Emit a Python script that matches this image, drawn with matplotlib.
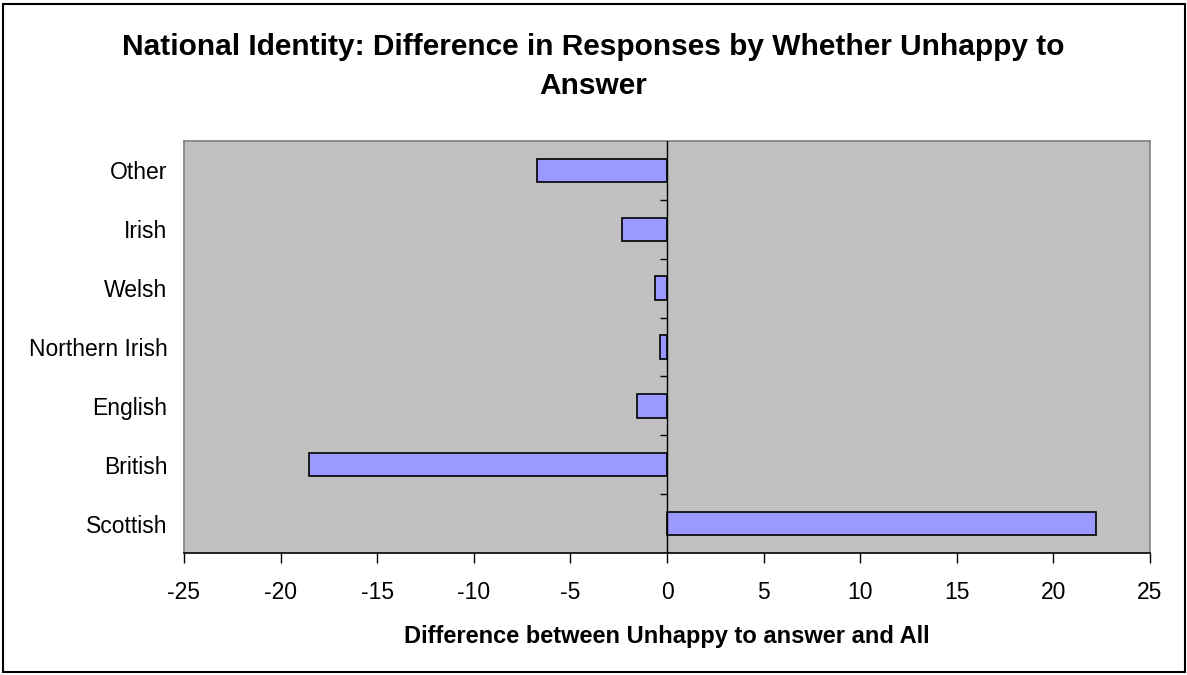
import matplotlib
matplotlib.use("Agg")
import matplotlib.pyplot as plt
import matplotlib.patches as patches

plt.rcParams["font.family"] = ["Liberation Sans", "DejaVu Sans"]

# categories bottom -> top
categories = ["Scottish", "British", "English", "Northern Irish", "Welsh", "Irish", "Other"]
differences = [22.2, -18.55, -1.53, -0.38, -0.61, -2.32, -6.72]
xticks = [-25, -20, -15, -10, -5, 0, 5, 10, 15, 20, 25]

fig = plt.figure(figsize=(11.87, 6.75), dpi=100, facecolor="white")
ax = fig.add_axes([184 / 1187, 1 - 553 / 675, (1150 - 184) / 1187, (553 - 141) / 675])
ax.set_facecolor("#C0C0C0")

ypos = list(range(len(categories)))
ax.barh(ypos, differences, height=0.4, color="#9999FF", edgecolor="black", linewidth=1.2, zorder=3)

ax.set_xlim(-25, 25)
ax.set_ylim(-0.5, len(categories) - 0.5)
ax.set_xticks(xticks)
ax.set_xticklabels([str(t) for t in xticks], fontsize=16.5)
ax.set_yticks(ypos)
ax.set_yticklabels(categories, fontsize=16.5)
ax.tick_params(axis="y", length=0, pad=12)
ax.tick_params(axis="x", direction="out", length=7, width=1, color="black", pad=13)

# vertical axis at zero with category boundary ticks
ax.axvline(0, color="black", linewidth=1, zorder=4)
bounds = [i + 0.5 for i in ypos[:-1]]
ax.hlines(bounds, -0.37, 0, color="black", linewidth=1, zorder=4)

for name, sp in ax.spines.items():
    sp.set_color("#808080")
    sp.set_linewidth(1.2)
ax.spines["bottom"].set_color("black")

ax.set_xlabel("Difference between Unhappy to answer and All", fontsize=17, fontweight="bold", labelpad=15)

fig.text(0.5, 1 - 47 / 675, "National Identity: Difference in Responses by Whether Unhappy to",
         ha="center", va="center", fontsize=21.5, fontweight="bold")
fig.text(0.5, 1 - 86 / 675, "Answer", ha="center", va="center", fontsize=21.5, fontweight="bold")

# outer chart border
border = patches.Rectangle((3 / 1187, 1 - 672 / 675), (1185 - 3) / 1187, (672 - 4) / 675,
                           transform=fig.transFigure, fill=False, edgecolor="black", linewidth=1.5)
fig.patches.append(border)

fig.savefig("out.png", dpi=100, facecolor=fig.get_facecolor())
